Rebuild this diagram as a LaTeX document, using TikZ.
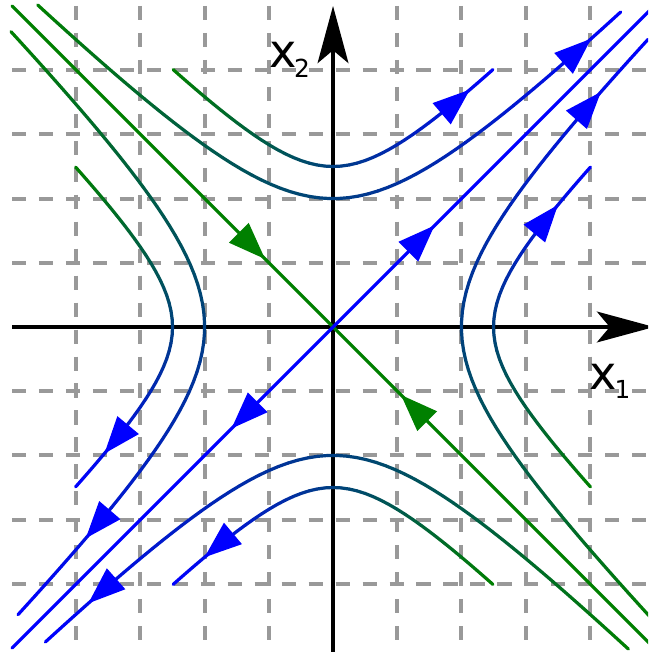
\documentclass[tikz,border=0pt]{standalone}
\usepackage{fontspec}
\newfontfamily\labfont{DejaVu Sans}
\usetikzlibrary{arrows.meta}
\definecolor{mygreen}{RGB}{0,128,0}
\definecolor{myblue}{RGB}{0,0,255}
\definecolor{gridgray}{RGB}{153,153,153}
\def\arrL{0.576}
\def\arrW{0.218}
\tikzset{
  curve/.style={line width=0.05cm, line cap=round},
  gridline/.style={draw=gridgray, line width=0.062cm, dash pattern=on 0.22cm off 0.2cm},
  axisline/.style={draw=black, line width=0.052cm},
  axisarrow/.style={-{Stealth[length=0.89cm, width=0.48cm, inset=0.2cm]}},
  lab/.style={inner sep=0pt, font=\labfont\fontsize{20.5pt}{24pt}\selectfont},
}
\newcommand{\subfnt}{\fontsize{11pt}{13pt}\selectfont}
% filled triangular arrow head: tip (x,y), direction angle, colour
\newcommand{\tipat}[4]{%
  \pgfmathsetmacro\vax{-\arrL*cos(#3)-\arrW*sin(#3)}%
  \pgfmathsetmacro\vay{-\arrL*sin(#3)+\arrW*cos(#3)}%
  \pgfmathsetmacro\vbx{-\arrL*cos(#3)+\arrW*sin(#3)}%
  \pgfmathsetmacro\vby{-\arrL*sin(#3)-\arrW*cos(#3)}%
  \fill[#4] (#1,#2) -- +(\vax,\vay) -- +(\vbx,\vby) -- cycle;%
}
% branch y = y0 + sqrt(c + x^2), green -> blue from xa to xb
\newcommand{\gradbranch}[5]{%
  \foreach \i in {1,...,#5}{%
    \pgfmathsetmacro\xs{#3+(\i-1)*(#4-(#3))/#5}%
    \pgfmathsetmacro\xe{#3+\i*(#4-(#3))/#5}%
    \pgfmathsetmacro\ys{#2+sqrt(#1+(\xs)*(\xs))}%
    \pgfmathsetmacro\ye{#2+sqrt(#1+(\xe)*(\xe))}%
    \pgfmathsetmacro\pcmix{100*(\i-0.5)/#5}%
    \draw[curve, draw=myblue!\pcmix!mygreen] (\xs,\ys) -- (\xe,\ye);
  }%
}
\newcommand{\branchtip}[3]{%
  \pgfmathsetmacro\tax{#3}%
  \pgfmathsetmacro\tay{#2+sqrt(#1+(#3)*(#3))}%
  \pgfmathsetmacro\tang{atan((#3)/sqrt(#1+(#3)*(#3)))}%
  \tipat{\tax}{\tay}{\tang}{myblue}%
}
\newcommand{\quadrant}[3]{%
  \begin{scope}[cm={#1,(0,0)}]
    \gradbranch{4}{0}{-4.6}{4.48}{60}
    \gradbranch{1.69}{1.2}{-2.49}{2.49}{40}
    \branchtip{4}{0}{#2}
    \branchtip{1.69}{1.2}{#3}
  \end{scope}%
}
\begin{document}
\begin{tikzpicture}
  \useasboundingbox (-5.187,-5.062) rectangle (4.907,5.093);
  \fill[white] (-5.187,-5.062) rectangle (4.907,5.093);
  \clip (-5.187,-5.062) rectangle (4.907,5.093);
  % grid
  \foreach \g in {-4,-3,-2,-1,1,2,3,4}{
    \draw[gridline] (\g,5) -- (\g,-5.2);
    \draw[gridline] (-5,\g) -- (5.2,\g);
  }
  % axes
  \coordinate (xstart) at (-5,0);
  \coordinate (xend) at (5,0);
  \coordinate (ystart) at (0,-5.2);
  \coordinate (yend) at (0,5);
  \draw[axisline, axisarrow] (xstart) -- (xend);
  \draw[axisline, axisarrow] (ystart) -- (yend);
  % hyperbola-like trajectories
  \quadrant{1,0,0,1}{4.02}{2.13}
  \quadrant{0,1,1,0}{3.66}{1.9}
  \quadrant{0,-1,-1,0}{3.29}{1.97}
  \quadrant{-1,0,0,-1}{3.81}{2.0}
  % separatrices
  \coordinate (gs) at (-5,5);
  \coordinate (ge) at (5,-5);
  \coordinate (bs) at (-5,-5);
  \coordinate (be) at (5,5);
  \draw[curve, mygreen] (gs) -- (ge);
  \draw[curve, myblue] (bs) -- (be);
  \tipat{-1.06}{1.06}{-45}{mygreen}
  \tipat{1.06}{-1.06}{135}{mygreen}
  \tipat{1.58}{1.58}{45}{myblue}
  \tipat{-1.58}{-1.58}{225}{myblue}
  % labels
  \node[lab, anchor=base west] (xtwo) at (-1.003,4.034) {x\kern-0.05em\raisebox{-0.15cm}{\subfnt 2}};
  \node[lab, anchor=base west] (xone) at (3.99,-0.981) {x\kern-0.05em\raisebox{-0.13cm}{\subfnt 1}};
\end{tikzpicture}
\end{document}
